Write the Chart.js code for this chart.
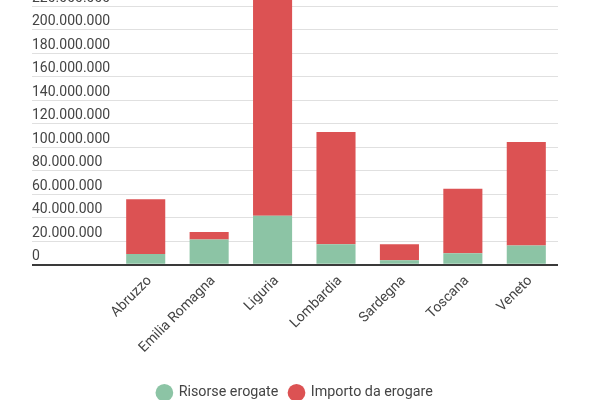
<!DOCTYPE html>
<html>
<head>
<meta charset="utf-8">
<script src="https://cdn.jsdelivr.net/npm/chart.js@4"></script>
<style>
  html, body { margin: 0; padding: 0; overflow: hidden; background: #fff; }
  #wrap { position: absolute; left: 0; top: -40px; width: 600px; height: 450px; }
</style>
</head>
<body>
<div id="wrap"><canvas id="chart"></canvas></div>
<script>
// ===== Data =====
const regions = ['Abruzzo', 'Emilia Romagna', 'Liguria', 'Lombardia', 'Sardegna', 'Toscana', 'Veneto'];
const risorseErogate = [9200000, 21400000, 41600000, 17500000, 3800000, 9800000, 16300000];
const importoDaErogare = [46600000, 6500000, 188400000, 95600000, 13700000, 55000000, 88300000];
const yTicksMax = 240000000;
const yTicksStep = 20000000;

const GREEN = '#8cc4a5';
const RED = '#dc5253';
const FONT = "Roboto, 'Noto Sans', sans-serif";

function formatIt(v) {
    return String(v).replace(/\B(?=(\d{3})+(?!\d))/g, '.');
}

// zero line is the dark baseline, the rest light gray
const gridColor = ctx => (ctx.tick && ctx.tick.value === 0) ? '#3a3a3a' : '#e0e0e0';
const gridWidth = ctx => (ctx.tick && ctx.tick.value === 0) ? 2 : 1;

new Chart(document.getElementById('chart').getContext('2d'), {
    type: 'bar',
    data: {
        labels: regions,
        datasets: [
            { label: 'Risorse erogate', data: risorseErogate, backgroundColor: GREEN },
            { label: 'Importo da erogare', data: importoDaErogare, backgroundColor: RED }
        ]
    },
    options: {
        responsive: true,
        maintainAspectRatio: false,
        animation: false,
        layout: { padding: { top: 23, left: 32, right: 42, bottom: 0 } },
        datasets: { bar: { categoryPercentage: 1, barPercentage: 0.616 } },
        plugins: {
            legend: {
                position: 'bottom',
                labels: {
                    color: '#444',
                    font: { family: FONT, size: 14.3 },
                    usePointStyle: true,
                    pointStyle: 'circle',
                    boxHeight: 12.5,
                    padding: 11
                }
            },
            tooltip: { enabled: false }
        },
        scales: {
            x: {
                stacked: true,
                grid: { display: false },
                border: { display: false },
                ticks: {
                    color: '#444',
                    font: { family: FONT, size: 14 },
                    minRotation: 45,
                    maxRotation: 45,
                    padding: 0,
                    labelOffset: 4
                },
                afterFit: scale => { scale.height = 110; }
            },
            y: {
                stacked: true,
                min: 0,
                max: yTicksMax,
                border: { display: false },
                grid: {
                    color: gridColor,
                    tickColor: gridColor,
                    lineWidth: gridWidth,
                    drawTicks: true,
                    tickLength: 82
                },
                ticks: {
                    stepSize: yTicksStep,
                    color: '#444',
                    font: { family: FONT, size: 14 },
                    crossAlign: 'far',
                    labelOffset: -8,
                    callback: v => formatIt(v)
                },
                afterFit: scale => { scale.width = 82; }
            }
        }
    }
});
</script>
</body>
</html>
